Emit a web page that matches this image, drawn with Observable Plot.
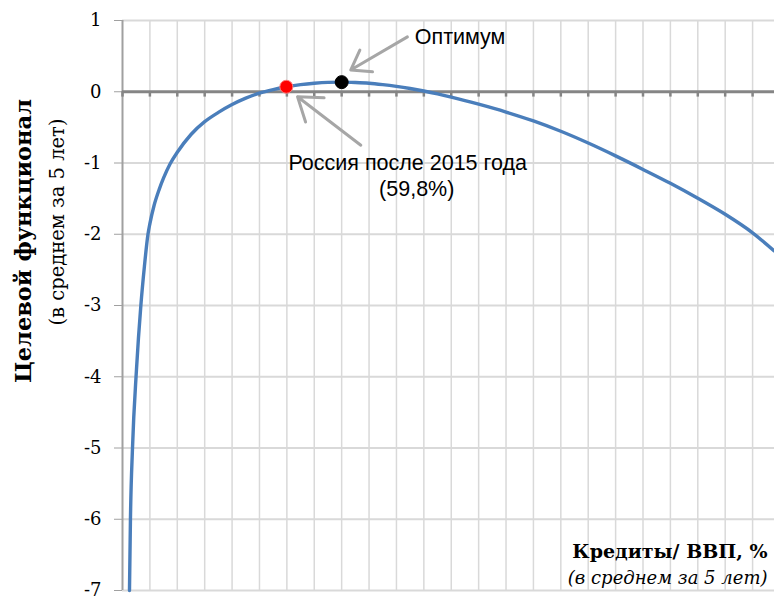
<!DOCTYPE html>
<html><head><meta charset="utf-8">
<script src="https://cdn.jsdelivr.net/npm/d3@7"></script>
<script src="https://cdn.jsdelivr.net/npm/@observablehq/plot@0.6"></script>
<style>
body{margin:0;background:#fff}
#chart{width:774px;height:597px}
</style>
</head><body><div id="chart"></div>
<script>
// Curve: credit / GDP (%) vs objective functional
const creditX    = [2.55, 2.9, 3.65, 5.1, 6.7, 8, 9.3, 10, 11.5, 13.4, 15, 17.4, 20, 25, 30, 35, 40, 45, 50, 55, 60, 65, 70, 75, 80, 85, 90, 95, 100, 105, 110, 115, 120, 130, 140, 150, 160, 170, 180, 190, 200, 210, 220, 230, 237.8];
const objectiveY = [-7, -6, -5, -3.9, -3.0, -2.45, -2.0, -1.85, -1.6, -1.37, -1.21, -1.01, -0.85, -0.6, -0.42, -0.29, -0.18, -0.09, -0.02, 0.03, 0.07, 0.10, 0.12, 0.132, 0.135, 0.13, 0.12, 0.10, 0.075, 0.045, 0.01, -0.03, -0.075, -0.175, -0.285, -0.41, -0.555, -0.72, -0.90, -1.09, -1.285, -1.495, -1.72, -1.98, -2.23];

// highlighted points
const pointNames  = ["Россия после 2015 года", "Оптимум"];
const pointX      = [59.8, 80];
const pointY      = [0.07, 0.135];
const pointFill   = ["#ff0000", "#000000"];
const pointStroke = ["#ff7a7a", "#000000"];

// annotations
const optLabel  = "Оптимум";
const optX = 106.7, optY = 0.76;
const rusLabels = ["Россия после 2015 года", "(59,8%)"];
const rusX      = [104.1, 107.4];
const rusY      = [-1.0, -1.366];

const arrowX1 = [104.0, 87.0];
const arrowY1 = [0.77, -0.75];
const arrowX2 = [83.3, 63.9];
const arrowY2 = [0.305, -0.07];

// ticks
const yTicks = [1, 0, -1, -2, -3, -4, -5, -6, -7];
const xTicks = [0, 10, 20, 30, 40, 50, 60, 70, 80, 90, 100, 110, 120, 130, 140, 150, 160, 170, 180, 190, 200, 210, 220, 230];
const xGrid  = xTicks.slice(1);

const yTitle1 = "Целевой функционал";
const yTitle2 = "(в среднем за 5 лет)";
const xTitle1 = "Кредиты/ ВВП, %";
const xTitle2 = "(в среднем за 5 лет)";

const curve = creditX.map((x, i) => ({x, y: objectiveY[i]}));
const pts = pointX.map((x, i) => ({name: pointNames[i], x, y: pointY[i], f: pointFill[i], s: pointStroke[i]}));
const rus = rusLabels.map((t, i) => ({t, x: rusX[i], y: rusY[i]}));
const arrows = arrowX1.map((x1, i) => ({x1, y1: arrowY1[i], x2: arrowX2[i], y2: arrowY2[i]}));

const serif = "'DejaVu Serif', serif";
const sans = "'Liberation Sans', Arial, sans-serif";

const chart = Plot.plot({
  width: 774, height: 597,
  marginLeft: 122, marginRight: 0, marginTop: 20, marginBottom: 7,
  style: {fontFamily: serif, background: "#fff"},
  x: {domain: [0, 238], axis: null},
  y: {domain: [-7, 1], axis: null},
  marks: [
    Plot.gridY(yTicks.filter(d => d !== 0), {stroke: "#d9d9d9", strokeOpacity: 1, strokeWidth: 2}),
    Plot.gridX(xGrid, {stroke: "#d9d9d9", strokeOpacity: 1, strokeWidth: 1.5}),
    Plot.ruleX([0], {stroke: "#a0a0a0", strokeWidth: 2}),
    Plot.axisY(yTicks, {tickSize: 8, tickPadding: 13, stroke: "#a0a0a0", fill: "#000", fontSize: 18, fontFamily: serif, tickFormat: d => String(d)}),
    Plot.ruleY([0], {stroke: "#858585", strokeWidth: 3}),
    Plot.ruleX(xTicks, {y1: 0, y2: -0.075, stroke: "#858585", strokeWidth: 2.5}),
    Plot.line(curve, {x: "x", y: "y", stroke: "#4a7ebb", strokeWidth: 3.4, curve: "monotone-x"}),
    Plot.arrow(arrows, {x1: "x1", y1: "y1", x2: "x2", y2: "y2", stroke: "#a6a6a6", strokeWidth: 3, headLength: 16, headAngle: 70}),
    Plot.dot(pts, {x: "x", y: "y", r: 6.5, fill: "f", stroke: "s", strokeWidth: 1}),
    Plot.text([optLabel], {x: optX, y: optY, textAnchor: "start", fontSize: 21.5, fontFamily: sans, fill: "#000"}),
    Plot.text(rus, {x: "x", y: "y", text: "t", textAnchor: "middle", fontSize: 21.5, fontFamily: sans, fill: "#000"}),
    Plot.text([yTitle1], {frameAnchor: "left", dx: -99, dy: -64.5, rotate: -90, textAnchor: "middle", fontSize: 22.5, fontWeight: "bold", fontFamily: serif, fill: "#000"}),
    Plot.text([yTitle2], {frameAnchor: "left", dx: -65, dy: -83.5, rotate: -90, textAnchor: "middle", fontSize: 19.5, fontFamily: serif, fill: "#000"}),
    Plot.text([xTitle1], {frameAnchor: "bottom-right", dx: -7, dy: -33, lineAnchor: "bottom", textAnchor: "end", fontSize: 19, fontWeight: "bold", fontFamily: serif, fill: "#000"}),
    Plot.text([xTitle2], {frameAnchor: "bottom-right", dx: -7, dy: -7, lineAnchor: "bottom", textAnchor: "end", fontSize: 18, fontStyle: "italic", fontFamily: serif, fill: "#000"})
  ]
});
document.getElementById("chart").appendChild(chart);
</script>
</body></html>
